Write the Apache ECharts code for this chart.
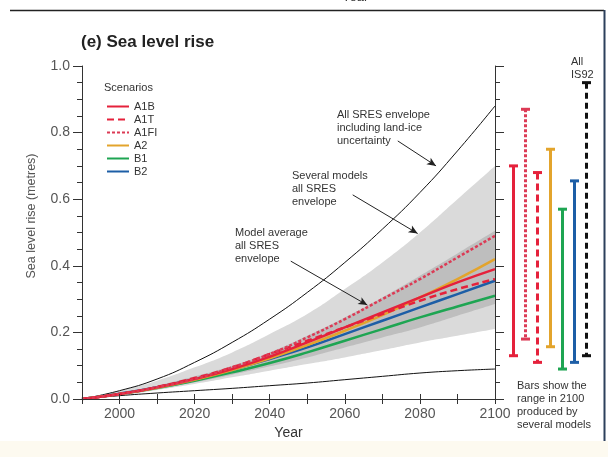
<!DOCTYPE html>
<html>
<head>
<meta charset="utf-8">
<script src="https://cdn.jsdelivr.net/npm/echarts@6/dist/echarts.min.js"></script>
<style>
html, body { margin: 0; padding: 0; background: #fff; }
#chart { width: 608px; height: 457px; }
</style>
</head>
<body>
<div id="chart"></div>
<script>
// years of the projections
const years = [1990, 2000, 2010, 2020, 2030, 2040, 2050, 2060, 2070, 2080, 2090, 2100];

// scenario curves (metres)
const a1b  = [0, 0.015, 0.035, 0.06, 0.09, 0.127, 0.17, 0.215, 0.26, 0.305, 0.35, 0.39];
const a1t  = [0, 0.015, 0.036, 0.063, 0.095, 0.135, 0.175, 0.215, 0.255, 0.295, 0.33, 0.36];
const a1fi = [0, 0.015, 0.035, 0.06, 0.095, 0.135, 0.185, 0.24, 0.30, 0.36, 0.425, 0.49];
const a2   = [0, 0.015, 0.034, 0.058, 0.087, 0.122, 0.162, 0.205, 0.252, 0.305, 0.36, 0.42];
const b1   = [0, 0.015, 0.033, 0.055, 0.08, 0.108, 0.14, 0.175, 0.21, 0.245, 0.278, 0.31];
const b2   = [0, 0.016, 0.035, 0.06, 0.088, 0.12, 0.155, 0.195, 0.235, 0.275, 0.315, 0.355];

// envelopes
const landIceUpper = [0, 0.025, 0.06, 0.11, 0.17, 0.24, 0.32, 0.41, 0.51, 0.62, 0.745, 0.88];
const landIceLower = [0, 0.01, 0.018, 0.025, 0.032, 0.04, 0.048, 0.058, 0.068, 0.078, 0.085, 0.09];
const modelsUpper  = [0, 0.025, 0.055, 0.095, 0.14, 0.195, 0.255, 0.33, 0.41, 0.50, 0.60, 0.70];
const modelsLower  = [0, 0.01, 0.027, 0.045, 0.065, 0.085, 0.105, 0.125, 0.147, 0.17, 0.19, 0.21];
const averageUpper = [0, 0.017, 0.04, 0.068, 0.10, 0.14, 0.19, 0.245, 0.305, 0.37, 0.437, 0.505];
const averageLower = [0, 0.013, 0.03, 0.05, 0.073, 0.098, 0.125, 0.155, 0.185, 0.215, 0.25, 0.285];

// range bars in 2100
const barNames = ['A1B', 'A1FI', 'A1T', 'A2', 'B1', 'B2', 'IS92'];
const barLow   = [0.13, 0.18, 0.11, 0.157, 0.09, 0.11, 0.13];
const barHigh  = [0.70, 0.87, 0.68, 0.75, 0.57, 0.655, 0.95];

const xTicks = [2000, 2020, 2040, 2060, 2080, 2100];

const RED = '#e5213b', ORANGE = '#e3a42c', GREEN = '#1ea552', BLUE = '#1d5ea6';
const barStyles = [
  { color: RED, dash: null },
  { color: '#dc3a55', dash: [3, 2] },
  { color: RED, dash: [7, 4] },
  { color: ORANGE, dash: null },
  { color: GREEN, dash: null },
  { color: BLUE, dash: null },
  { color: '#111', dash: [6, 4] }
];

const pairs = arr => years.map((y, i) => [y, arr[i]]);

const chart = echarts.init(document.getElementById('chart'));

function scen(name, data, color, type) {
  return {
    name: name, type: 'line', data: pairs(data), smooth: true,
    symbol: 'none', z: 6,
    lineStyle: { color: color, width: 2.5, type: type || 'solid' },
    itemStyle: { color: color }
  };
}

// filled band drawn down to 0, layered light -> dark -> light -> white
function fill(data, color, z) {
  return {
    type: 'line', data: pairs(data), smooth: true, symbol: 'none', silent: true, z: z,
    lineStyle: { width: 0, opacity: 0 },
    areaStyle: { color: color, opacity: 1, origin: 'start' }
  };
}

const annotation = {
  fill: '#333', fontSize: 11, fontFamily: 'Liberation Sans, Arial', lineHeight: 13
};

const axisCommon = { z: 10 };

const option = {
  animation: false,
  title: {
    text: '(e) Sea level rise', left: 76, top: 29,
    textStyle: { fontSize: 17, fontWeight: 'bold', color: '#222', fontFamily: 'Liberation Sans, Arial' }
  },
  legend: {
    data: ['A1B', 'A1T', 'A1FI', 'A2', 'B1', 'B2'],
    orient: 'vertical', left: 101, top: 95,
    itemWidth: 22, itemHeight: 13, itemGap: 0,
    itemStyle: { opacity: 0 },
    textStyle: { fontSize: 11, color: '#333', fontFamily: 'Liberation Sans, Arial', lineHeight: 13 }
  },
  grid: [
    { left: 82, right: 113, top: 66, bottom: 58 },
    { left: 507, right: 16, top: 66, bottom: 58 }
  ],
  xAxis: [
    Object.assign({
      type: 'value', min: 1990, max: 2100, interval: 10, gridIndex: 0,
      name: 'Year', nameLocation: 'middle', nameGap: 27,
      nameTextStyle: { fontSize: 14, color: '#333', fontFamily: 'Liberation Sans, Arial' },
      axisLine: { lineStyle: { color: '#333', width: 1 } },
      axisTick: { length: 5, lineStyle: { color: '#333' } },
      axisLabel: {
        fontSize: 14, color: '#555', margin: 8, fontFamily: 'Liberation Sans, Arial',
        formatter: v => xTicks.includes(v) ? String(v) : ''
      },
      splitLine: { show: false }
    }, axisCommon),
    Object.assign({
      type: 'value', min: 1990, max: 2100, interval: 10, gridIndex: 0, position: 'top',
      axisLine: { lineStyle: { color: '#333', width: 1 } },
      axisTick: { length: 5, lineStyle: { color: '#333' } },
      axisLabel: { show: false }, splitLine: { show: false }
    }, axisCommon),
    {
      type: 'category', data: barNames, gridIndex: 1, show: false
    }
  ],
  yAxis: [
    Object.assign({
      type: 'value', min: 0, max: 1, interval: 0.2, gridIndex: 0,
      axisLine: { show: true, lineStyle: { color: '#333', width: 1 } },
      axisTick: { show: true, length: 9, lineStyle: { color: '#333' } },
      minorTick: { show: true, splitNumber: 4, length: 5, lineStyle: { color: '#333' } },
      axisLabel: { fontSize: 14, color: '#555', margin: 12, fontFamily: 'Liberation Sans, Arial',
        formatter: v => v.toFixed(1) },
      splitLine: { show: false }
    }, axisCommon),
    Object.assign({
      type: 'value', min: 0, max: 1, interval: 0.2, gridIndex: 0, position: 'right',
      axisLine: { show: true, lineStyle: { color: '#333', width: 1 } },
      axisTick: { show: true, length: 9, lineStyle: { color: '#333' } },
      minorTick: { show: true, splitNumber: 4, length: 5, lineStyle: { color: '#333' } },
      axisLabel: { show: false }, splitLine: { show: false }
    }, axisCommon),
    {
      type: 'value', min: 0, max: 1, gridIndex: 1, show: false
    }
  ],
  series: [
    // several models all SRES (light) and model average all SRES (dark) envelopes
    fill(modelsUpper, '#dadada', 1),
    fill(averageUpper, '#bebebe', 2),
    fill(averageLower, '#dadada', 3),
    fill(modelsLower, '#ffffff', 4),
    // land-ice uncertainty envelope
    { type: 'line', data: pairs(landIceUpper), smooth: true, symbol: 'none', z: 5,
      lineStyle: { color: '#111', width: 1 }, silent: true,
      markLine: {
        silent: true, symbol: ['none', 'arrow'], symbolSize: [6, 9],
        lineStyle: { color: '#222', width: 1, type: 'solid' }, label: { show: false },
        data: [
          [{ coord: [2074.1, 0.775] }, { coord: [2084.3, 0.70] }],
          [{ coord: [2062.1, 0.613] }, { coord: [2079.4, 0.497] }],
          [{ coord: [2045.6, 0.414] }, { coord: [2066.0, 0.282] }]
        ]
      } },
    { type: 'line', data: pairs(landIceLower), smooth: true, symbol: 'none', z: 5,
      lineStyle: { color: '#111', width: 1 }, silent: true },
    scen('B1', b1, GREEN),
    scen('B2', b2, BLUE),
    scen('A2', a2, ORANGE),
    scen('A1B', a1b, RED),
    scen('A1T', a1t, RED, [7, 4]),
    scen('A1FI', a1fi, '#dc3a55', [3, 2]),
    // range bars in 2100
    {
      type: 'custom', xAxisIndex: 2, yAxisIndex: 2,
      data: barNames.map((n, i) => [i, barLow[i], barHigh[i]]),
      renderItem: (params, api) => {
        const s = barStyles[params.dataIndex];
        const lo = api.coord([api.value(0), api.value(1)]);
        const hi = api.coord([api.value(0), api.value(2)]);
        const x = Math.round(lo[0]) + 0.5;
        return {
          type: 'group',
          children: [
            { type: 'line', shape: { x1: x, y1: hi[1], x2: x, y2: lo[1] },
              style: { stroke: s.color, lineWidth: 3, lineDash: s.dash } },
            { type: 'line', shape: { x1: x - 4.5, y1: hi[1], x2: x + 4.5, y2: hi[1] },
              style: { stroke: s.color, lineWidth: 3 } },
            { type: 'line', shape: { x1: x - 4.5, y1: lo[1], x2: x + 4.5, y2: lo[1] },
              style: { stroke: s.color, lineWidth: 3 } }
          ]
        };
      }
    }
  ],
  graphic: [
    { type: 'rect', shape: { x: 0, y: 441, width: 608, height: 16 }, style: { fill: '#fdfaf0' }, z: -1 },
    { type: 'line', shape: { x1: 10, y1: 10.5, x2: 604, y2: 10.5 }, style: { stroke: '#222', lineWidth: 1.5 } },
    { type: 'line', shape: { x1: 604.5, y1: 10, x2: 604.5, y2: 441 }, style: { stroke: '#2c405c', lineWidth: 2 } },
    { type: 'text', left: 342, top: -9, style: Object.assign({ text: 'Year' }, annotation, { fontSize: 13 }) },
    { type: 'text', x: 32, y: 216, rotation: Math.PI / 2,
      style: { text: 'Sea level rise (metres)', fill: '#555', fontSize: 12.5,
        fontFamily: 'Liberation Sans, Arial', align: 'center', verticalAlign: 'middle' } },
    { type: 'text', left: 104, top: 81, style: Object.assign({ text: 'Scenarios' }, annotation) },
    { type: 'text', left: 337, top: 108,
      style: Object.assign({ text: 'All SRES envelope\nincluding land-ice\nuncertainty', align: 'center' }, annotation) },
    { type: 'text', left: 292, top: 169,
      style: Object.assign({ text: 'Several models\nall SRES\nenvelope', align: 'center' }, annotation) },
    { type: 'text', left: 235, top: 226,
      style: Object.assign({ text: 'Model average\nall SRES\nenvelope' }, annotation) },
    { type: 'text', left: 571, top: 55,
      style: Object.assign({ text: 'All\nIS92', align: 'center' }, annotation) },
    { type: 'text', left: 517, top: 379,
      style: Object.assign({ text: 'Bars show the\nrange in 2100\nproduced by\nseveral models', align: 'center', lineHeight: 12 }, annotation) }
  ]
};

chart.setOption(option);
</script>
</body>
</html>
